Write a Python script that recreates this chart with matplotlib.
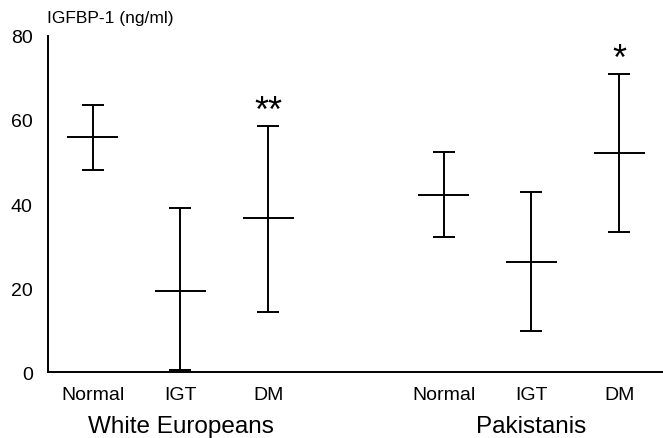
import matplotlib.pyplot as plt
import numpy as np

plt.rcParams['font.family'] = ['Liberation Sans', 'DejaVu Sans']

# Dati
gruppi = ['White Europeans', 'Pakistanis']
categorie = ['Normal', 'IGT', 'DM', 'Normal', 'IGT', 'DM']
posizioni = [0, 1, 2, 4, 5, 6]
media = [56.0, 19.4, 36.7, 42.2, 26.3, 52.1]
limite_sup = [63.6, 39.0, 58.6, 52.3, 42.9, 71.0]
limite_inf = [48.2, 0.6, 14.2, 32.2, 9.8, 33.3]
significativita = ['', '', '**', '', '', '*']

media = np.array(media)
err = [media - np.array(limite_inf), np.array(limite_sup) - media]

fig = plt.figure(figsize=(6.63, 4.39), dpi=100)
ax = fig.add_axes([0.0724, 0.150, 0.9276, 0.766])

ax.errorbar(posizioni, media, yerr=err, fmt='none', ecolor='black',
            elinewidth=1.4, capsize=8, capthick=1.4)
ax.hlines(media, np.array(posizioni) - 0.29, np.array(posizioni) + 0.29,
          color='black', linewidth=1.4)

# Asterischi di significativita
for x, sup, s in zip(posizioni, limite_sup, significativita):
    if s:
        ax.text(x, sup + 3.5, s, ha='center', va='center', fontsize=26)

ax.set_xlim(-0.51, 6.5)
ax.set_ylim(0, 80)
ax.set_yticks([0, 20, 40, 60, 80])
ax.set_xticks(posizioni)
ax.set_xticklabels(categorie)
ax.tick_params(axis='both', length=0, labelsize=14)
ax.tick_params(axis='y', pad=11)
ax.tick_params(axis='x', pad=10)

for lato in ['top', 'right']:
    ax.spines[lato].set_visible(False)
ax.spines['left'].set_linewidth(1.4)
ax.spines['bottom'].set_linewidth(1.4)

# Nomi dei gruppi sotto le categorie
for nome, x in zip(gruppi, [1, 5]):
    ax.text(x, -0.178, nome, ha='center', va='baseline', fontsize=17.5,
            transform=ax.get_xaxis_transform())

fig.text(47 / 663, 1 - 19 / 439, 'IGFBP-1 (ng/ml)', ha='left', va='center', fontsize=12.5)

plt.savefig('out.png', dpi=100)
